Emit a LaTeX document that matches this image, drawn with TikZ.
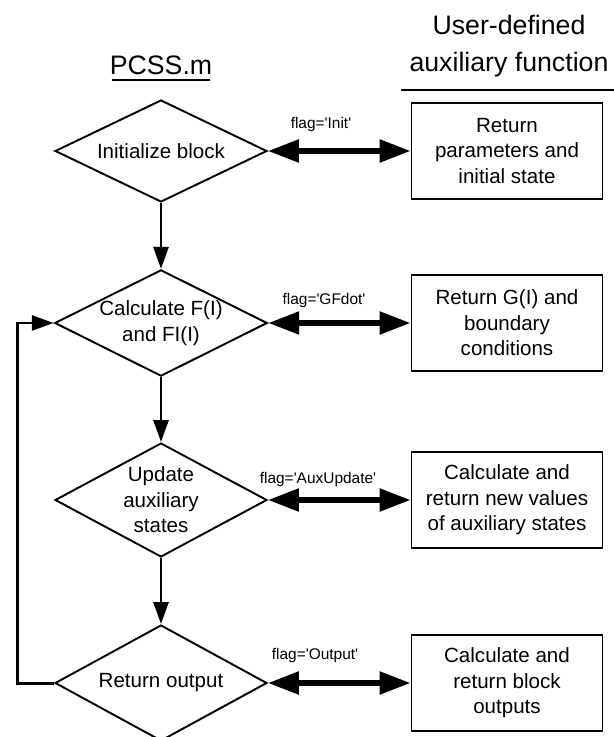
\documentclass[tikz,border=0pt]{standalone}
\usepackage{fontspec}
\setmainfont{Liberation Sans}
\usetikzlibrary{arrows.meta, shapes.geometric, positioning}

\tikzset{
  decision/.style={diamond, draw, line width=1.1pt, inner sep=0pt, aspect=2,
    minimum width=4.24cm, align=center, font=\fontsize{11.7}{14.5}\selectfont},
  auxbox/.style={rectangle, draw, line width=1.1pt, minimum width=3.82cm,
    minimum height=1.92cm, align=center, font=\fontsize{11.7}{14.5}\selectfont},
  heading/.style={align=center, inner sep=0pt, font=\fontsize{15.2}{21}\selectfont},
  flaglabel/.style={inner sep=0pt, font=\fontsize{8.8}{10}\selectfont},
  headrule/.style={line width=1.1pt},
  callarrow/.style={line width=3.1pt,
    {Triangle[length=17.6pt,width=12.5pt]}-{Triangle[length=17.6pt,width=12.5pt]}},
  flowarrow/.style={line width=1.7pt, -{Triangle[length=12.5pt,width=8.5pt]}},
}
\newcommand{\flagq}{\textquotesingle}

\begin{document}
\begin{tikzpicture}[x=0.02cm, y=-0.02cm]
        \useasboundingbox (0,0) rectangle (613,737);

        % column headings
        \node[heading] (pcss) at (161,65.5) {PCSS.m};
        \node[heading] (userfn) at (509,46) {User-defined\\auxiliary function};
        \draw[headrule] (112,80) -- (210,80);
        \draw[headrule] (401,90) -- (615,90);

        % PCSS.m steps
        \node[decision, minimum height=2.04cm] (init) at (161,151) {Initialize block};
        \node[decision, minimum height=2.1cm] (calc) at (161,323) {Calculate F(I)\\and FI(I)};
        \node[decision, minimum height=2.28cm, aspect=1.85] (update) at (161,500) {Update\\auxiliary\\states};
        \node[decision, minimum height=2.32cm, aspect=1.85] (output) at (161,683) {Return output};

        % auxiliary function answers
        \node[auxbox] (retinit) at (507,151) {Return\\parameters and\\initial state};
        \node[auxbox] (retgf) at (507,323) {Return G(I) and\\boundary\\conditions};
        \node[auxbox] (retaux) at (507,500) {Calculate and\\return new values\\of auxiliary states};
        \node[auxbox] (retout) at (507,683) {Calculate and\\return block\\outputs};

        % flags
        \node[flaglabel] (flaginit) at (321,125) {flag=\flagq Init\flagq};
        \node[flaglabel] (flaggf) at (324,300) {flag=\flagq GFdot\flagq};
        \node[flaglabel] (flagaux) at (318,479) {flag=\flagq AuxUpdate\flagq};
        \node[flaglabel] (flagout) at (315,655) {flag=\flagq Output\flagq};

        % calls
        \draw[callarrow] (init.east) -- (retinit.west);
        \draw[callarrow] (calc.east) -- (retgf.west);
        \draw[callarrow] (update.east) -- (retaux.west);
        \draw[callarrow] (output.east) -- (retout.west);

        % flow
        \draw[flowarrow] (init.south) -- (calc.north);
        \draw[flowarrow] (calc.south) -- (update.north);
        \draw[flowarrow] (update.south) -- (output.north);
        \draw[flowarrow] (output.west) -- ++(-37,0) |- (calc.west);
    \end{tikzpicture}
\end{document}
